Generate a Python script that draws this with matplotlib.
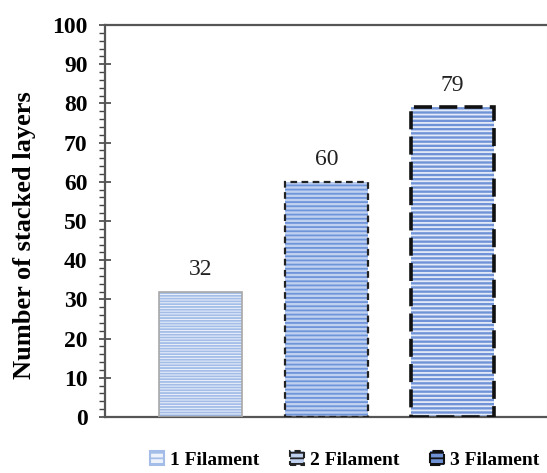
import matplotlib
matplotlib.use("Agg")
import matplotlib.pyplot as plt
from matplotlib.ticker import MultipleLocator

categories = ["1 Filament", "2 Filament", "3 Filament"]
values = [32, 60, 79]
ylabel = "Number of stacked layers"

plt.rcParams['font.family'] = ['Liberation Serif', 'DejaVu Serif']
plt.rcParams['hatch.linewidth'] = 1.3

fig = plt.figure(figsize=(5.47, 4.73), dpi=100)
ax = fig.add_axes([105/547, 56/473, 1 - 105/547, (417-25)/473])

face = ["#eef3fb", "#c0d1f0", "#7093d7"]
hatchc = ["#a3bde8", "#6e94da", "#e3eaf8"]
hatches = ["------", "----", "----"]
edge_ls = ["-", (0, (3, 2)), (0, (5, 2))]
edge_c = ["#a8a8a8", "#222222", "#111111"]
edge_lw = [1.2, 1.6, 2.6]

x = list(range(len(values)))
handles = []
for i, v in enumerate(values):
    ax.bar(x[i], v, width=0.66, color=face[i], hatch=hatches[i],
           edgecolor=hatchc[i], linewidth=0, zorder=2)
    ax.bar(x[i], v, width=0.66, fill=False, edgecolor=edge_c[i],
           linestyle=edge_ls[i], linewidth=edge_lw[i], zorder=3)
    ax.text(x[i], v + 3, str(v), ha='center', va='bottom', fontsize=17, color='#222222')
    handles.append(plt.Rectangle((0, 0), 1, 1, facecolor=face[i], hatch="---",
                                 edgecolor=edge_c[i] if i > 0 else hatchc[i],
                                 linestyle=edge_ls[i], linewidth=1.5))

ax.set_xlim(-0.76, 2.75)
ax.set_ylim(0, 100)
ax.yaxis.set_major_locator(MultipleLocator(10))
ax.yaxis.set_minor_locator(MultipleLocator(2))
ax.tick_params(axis='y', which='major', direction='inout', length=9, width=1.2,
               color='#444444', labelsize=17, pad=8)
ax.tick_params(axis='y', which='minor', direction='out', length=4, width=1.0, color='#444444')
ax.set_xticks([])
for lab in ax.get_yticklabels():
    lab.set_fontweight('bold')
for s in ['left', 'top', 'bottom']:
    ax.spines[s].set_linewidth(1.6)
    ax.spines[s].set_color('#555555')
ax.spines['right'].set_linewidth(0.8)
ax.spines['right'].set_color('#dddddd')

ax.set_ylabel(ylabel, fontsize=19, fontweight='bold')
ax.yaxis.set_label_coords(-0.156, 0.465)

fig.legend(handles, categories, loc='center', bbox_to_anchor=(0.63, 0.028), ncol=3,
           frameon=False, handlelength=0.7, handleheight=0.7, handletextpad=0.3,
           columnspacing=1.6, prop={'weight': 'bold', 'size': 14})

fig.savefig("out.png", dpi=100)
